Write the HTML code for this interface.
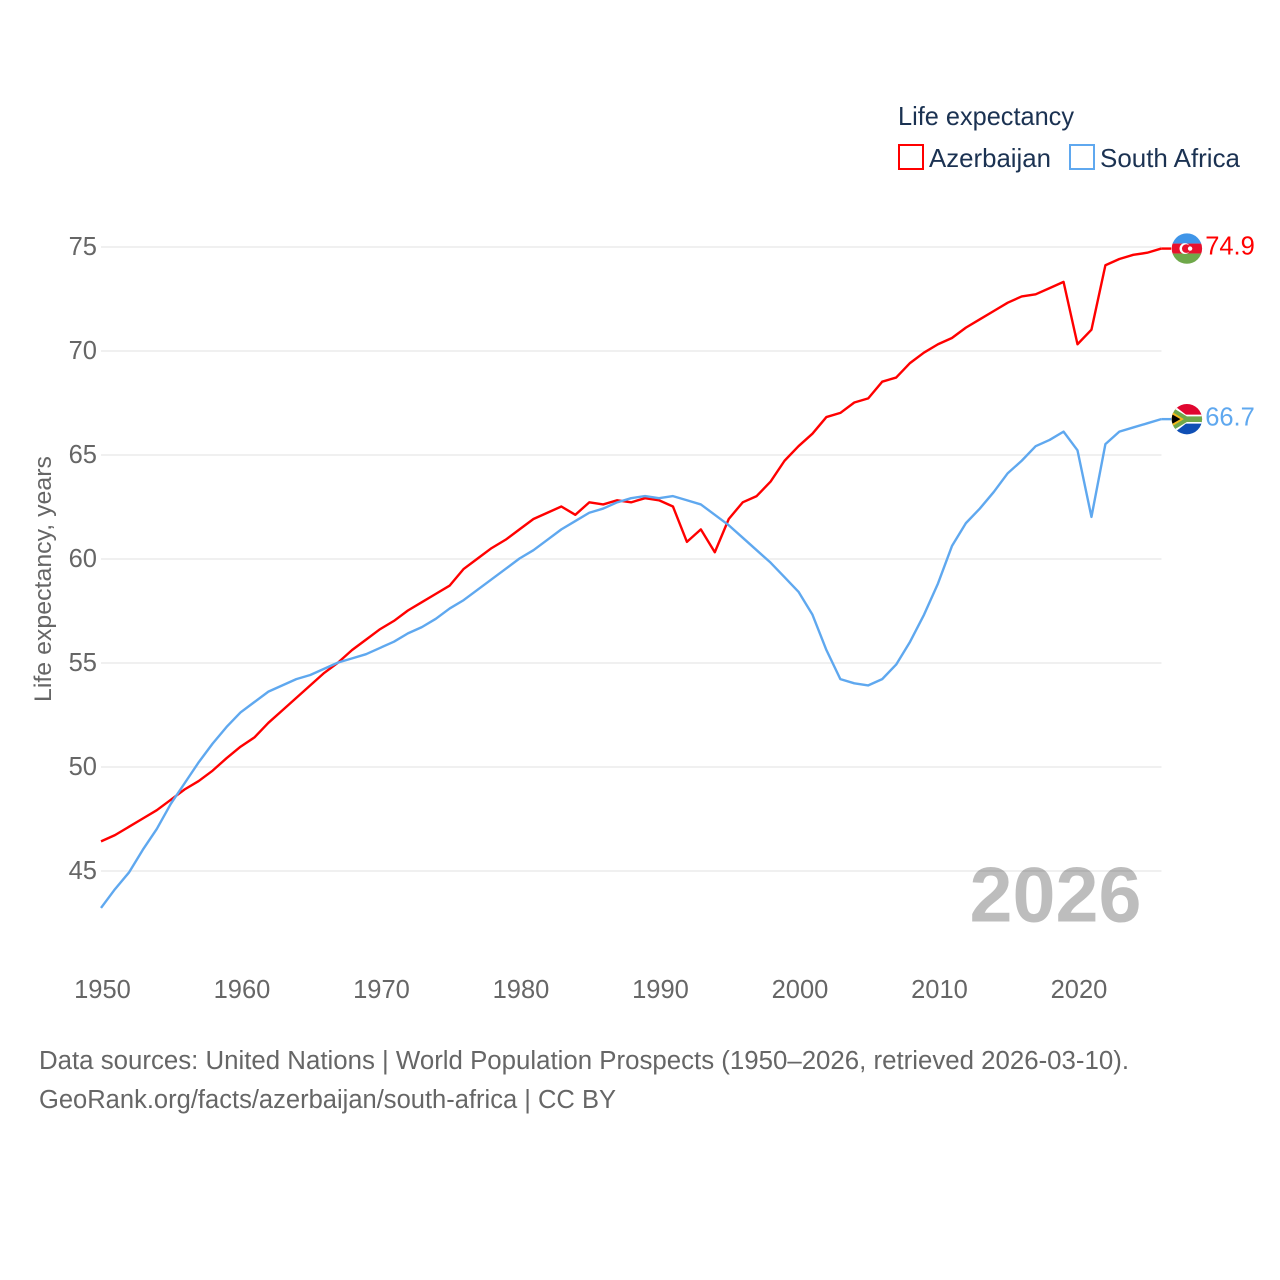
<!DOCTYPE html>
<html lang="en">
<head>
<meta charset="utf-8">
<title>Life expectancy: Azerbaijan and South Africa</title>
<style>
html,body{margin:0;padding:0;background:#fff}
svg{display:block;font-family:"Liberation Sans",sans-serif}
</style>
</head>
<body>
<svg id="chart" width="1280" height="1280" viewBox="0 0 1280 1280" xmlns="http://www.w3.org/2000/svg">
  <rect width="1280" height="1280" fill="#fff"/>
  <g id="grid"></g>
  <g id="yticks"></g>
  <g id="xticks"></g>
  <text transform="translate(51,702) rotate(-90)" font-size="24.5" fill="#666" textLength="246" lengthAdjust="spacingAndGlyphs">Life expectancy, years</text>
  <text x="969.5" y="921.5" font-size="78" font-weight="700" fill="#000" fill-opacity="0.26" textLength="172" lengthAdjust="spacingAndGlyphs">2026</text>
  <g id="series"></g>
  <g id="flag-az">
    <clipPath id="clip-az"><circle r="15.2"/></clipPath>
    <g clip-path="url(#clip-az)">
      <rect x="-16" y="-16" width="32" height="11" fill="#3f95e8"/>
      <rect x="-16" y="-5" width="32" height="10" fill="#e8112d"/>
      <rect x="-16" y="5" width="32" height="11" fill="#6fa84a"/>
      <circle cx="-2" cy="0" r="5.4" fill="#fff"/>
      <circle cx="-0.6" cy="0" r="4.3" fill="#e8112d"/>
      <circle cx="3.2" cy="0" r="2.2" fill="#fff"/>
    </g>
  </g>
  <g id="flag-za">
    <clipPath id="clip-za"><circle r="15.2"/></clipPath>
    <g clip-path="url(#clip-za)">
      <rect x="-16" y="-16" width="32" height="16" fill="#e0062f"/>
      <rect x="-16" y="0" width="32" height="16" fill="#0f4fb5"/>
      <path d="M-16,-16 L-1,-4.5 H16 V4.5 H-1 L-16,16 Z" fill="#fff"/>
      <path d="M-16,-12.5 L0,-2.8 H16 V2.8 H0 L-16,12.5 Z" fill="#6fa84a"/>
      <path d="M-16,-8 L-3,0 L-16,8 Z" fill="#f4b81c"/>
      <path d="M-16,-5.5 L-6.5,0 L-16,5.5 Z" fill="#000"/>
    </g>
  </g>
  <g id="end-labels"></g>
  <g>
    <text x="898" y="125" font-size="26" fill="#1b3252" textLength="176" lengthAdjust="spacingAndGlyphs">Life expectancy</text>
    <rect x="899" y="145" width="24" height="24" fill="none" stroke="#ff0000" stroke-width="2"/>
    <text x="929" y="167" font-size="26" fill="#1b3252" textLength="122" lengthAdjust="spacingAndGlyphs">Azerbaijan</text>
    <rect x="1070" y="145" width="24" height="24" fill="none" stroke="#5fa8ef" stroke-width="2"/>
    <text x="1100" y="167" font-size="26" fill="#1b3252" textLength="140" lengthAdjust="spacingAndGlyphs">South Africa</text>
  </g>
  <text x="39" y="1069" font-size="25.5" fill="#666" textLength="1090" lengthAdjust="spacingAndGlyphs">Data sources: United Nations | World Population Prospects (1950–2026, retrieved 2026-03-10).</text>
  <text x="39" y="1108" font-size="25.5" fill="#666" textLength="577" lengthAdjust="spacingAndGlyphs">GeoRank.org/facts/azerbaijan/south-africa | CC BY</text>
</svg>
<script>
const startYear = 1950;
const yTickValues = [45, 50, 55, 60, 65, 70, 75];
const xTickValues = [1950, 1960, 1970, 1980, 1990, 2000, 2010, 2020];
const azerbaijanValues = [46.4,46.7,47.1,47.5,47.9,48.4,48.9,49.3,49.8,50.4,50.95,51.4,52.1,52.7,53.3,53.9,54.5,55.0,55.6,56.1,56.6,57.0,57.5,57.9,58.3,58.7,59.5,60.0,60.5,60.9,61.4,61.9,62.2,62.5,62.1,62.7,62.6,62.8,62.7,62.9,62.8,62.5,60.8,61.4,60.3,61.9,62.7,63.0,63.7,64.7,65.4,66.0,66.8,67.0,67.5,67.7,68.5,68.7,69.4,69.9,70.3,70.6,71.1,71.5,71.9,72.3,72.6,72.7,73.0,73.3,70.3,71.0,74.1,74.4,74.6,74.7,74.9];
const southAfricaValues = [43.2,44.1,44.9,46.0,47.0,48.2,49.2,50.2,51.1,51.9,52.6,53.1,53.6,53.9,54.2,54.4,54.7,55.0,55.2,55.4,55.7,56.0,56.4,56.7,57.1,57.6,58.0,58.5,59.0,59.5,60.0,60.4,60.9,61.4,61.8,62.2,62.4,62.7,62.9,63.0,62.9,63.0,62.8,62.6,62.1,61.6,61.0,60.4,59.8,59.1,58.4,57.3,55.6,54.2,54.0,53.9,54.2,54.9,56.0,57.3,58.8,60.6,61.7,62.4,63.2,64.1,64.7,65.4,65.7,66.1,65.2,62.0,65.5,66.1,66.3,66.5,66.7];

const NS = 'http://www.w3.org/2000/svg';
const xScale = function (year) { return 101 + (year - 1950) * 13.95; };
const yScale = function (value) { return 870.5 - (value - 45) * 20.8; };

function make(tag, parent, attrs, text) {
  const el = document.createElementNS(NS, tag);
  Object.keys(attrs).forEach(function (k) { el.setAttribute(k, attrs[k]); });
  if (text !== undefined) el.textContent = text;
  parent.appendChild(el);
  return el;
}

const gridGroup = document.getElementById('grid');
const yTickGroup = document.getElementById('yticks');
yTickValues.forEach(function (v) {
  const line = make('line', gridGroup, { x1: 101, x2: 1161.5, y1: yScale(v) + 0.5, y2: yScale(v) + 0.5, stroke: '#ebebeb', 'stroke-width': 1.5 });
  
  
  const label = make('text', yTickGroup, { x: 97, y: yScale(v) + 8.5, 'text-anchor': 'end', 'font-size': 25.5, fill: '#666' }, String(v));
  
  
});

const xTickGroup = document.getElementById('xticks');
xTickValues.forEach(function (v) {
  const label = make('text', xTickGroup, { x: xScale(v) + 1.5, y: 998, 'text-anchor': 'middle', 'font-size': 25.5, fill: '#666' }, String(v));
  
  
});

function linePoints(values) {
  return values.map(function (v, i) {
    return xScale(startYear + i).toFixed(2) + ',' + yScale(v).toFixed(2);
  }).join(' ');
}
function lastPoint(values) {
  return { x: xScale(startYear + values.length - 1), y: yScale(values[values.length - 1]), v: values[values.length - 1] };
}

const seriesGroup = document.getElementById('series');
const labelGroup = document.getElementById('end-labels');

const azLine = make('polyline', seriesGroup, { points: linePoints(azerbaijanValues), fill: 'none', stroke: '#ff0000', 'stroke-width': 2.4, 'stroke-linejoin': 'round' });


const zaLine = make('polyline', seriesGroup, { points: linePoints(southAfricaValues), fill: 'none', stroke: '#5fa8ef', 'stroke-width': 2.4, 'stroke-linejoin': 'round' });



const azEnd = lastPoint(azerbaijanValues);
const zaEnd = lastPoint(southAfricaValues);

const azConn = make('line', seriesGroup, { x1: azEnd.x, x2: azEnd.x + 10, y1: azEnd.y, y2: azEnd.y, stroke: '#ff0000', 'stroke-width': 2.4 });


const zaConn = make('line', seriesGroup, { x1: zaEnd.x, x2: zaEnd.x + 10, y1: zaEnd.y, y2: zaEnd.y, stroke: '#5fa8ef', 'stroke-width': 2.4 });



document.getElementById('flag-az').setAttribute('transform', 'translate(' + (azEnd.x + 25.7) + ',' + (azEnd.y) + ')');
document.getElementById('flag-za').setAttribute('transform', 'translate(' + (zaEnd.x + 25.7) + ',' + (zaEnd.y) + ')');

const azLabel = make('text', labelGroup, { x: azEnd.x + 44, y: azEnd.y + 6, 'font-size': 25.5, fill: '#ff0000' }, azEnd.v.toFixed(1));


const zaLabel = make('text', labelGroup, { x: zaEnd.x + 44, y: zaEnd.y + 6.5, 'font-size': 25.5, fill: '#5fa8ef' }, zaEnd.v.toFixed(1));


</script>
</body>
</html>
